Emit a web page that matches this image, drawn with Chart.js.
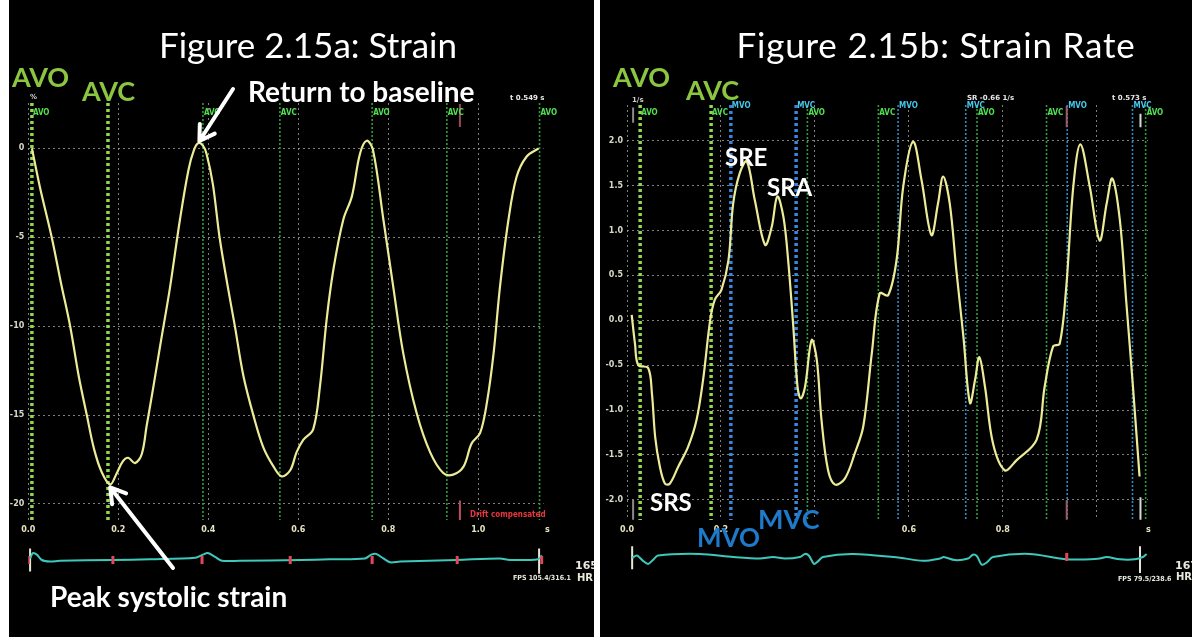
<!DOCTYPE html>
<html>
<head>
<meta charset="utf-8">
<title>Strain / Strain Rate</title>
<script src="https://cdn.jsdelivr.net/npm/chart.js@4.4.1/dist/chart.umd.min.js"></script>
<style>
  html, body { margin: 0; padding: 0; background: #fff; }
  body { width: 1192px; height: 637px; position: relative; overflow: hidden; }
  .panel { position: absolute; top: 0; height: 637px; background: #000; }
  .panel canvas { position: absolute; left: 0; }
  #panelA { left: 9px; width: 585px; }
  #panelB { left: 600px; width: 592px; }
</style>
</head>
<body>
<div class="panel" id="panelA">
  <canvas id="ecgA" width="585" height="60" style="top:530px"></canvas>
  <canvas id="mainA" width="585" height="637" style="top:0"></canvas>
</div>
<div class="panel" id="panelB">
  <canvas id="ecgB" width="592" height="60" style="top:527px"></canvas>
  <canvas id="mainB" width="592" height="637" style="top:0"></canvas>
</div>
<script>
// ---------- strain trace (%), time in s ----------
const strainT = [0.008, 0.026, 0.052, 0.072, 0.093, 0.112, 0.130, 0.146, 0.163, 0.182,
  0.196, 0.210, 0.222, 0.237, 0.252, 0.263, 0.278, 0.293, 0.315, 0.337,
  0.356, 0.368, 0.378, 0.388, 0.396, 0.410, 0.425, 0.442, 0.459, 0.478,
  0.500, 0.522, 0.545, 0.563, 0.582, 0.596, 0.611, 0.633, 0.648, 0.663,
  0.678, 0.700, 0.719, 0.737, 0.752, 0.766, 0.789, 0.811, 0.833, 0.863,
  0.893, 0.922, 0.944, 0.967, 0.985, 1.004, 1.019, 1.034, 1.048, 1.067,
  1.085, 1.107, 1.134];
const strainV = [0.0, -2.2, -5.0, -7.5, -10.0, -12.8, -15.0, -16.9, -18.2, -18.9,
  -18.3, -17.6, -17.4, -17.7, -17.2, -15.6, -13.4, -11.1, -7.8, -4.0,
  -1.2, -0.1, 0.3, 0.15, -0.3, -2.0, -5.0, -7.6, -10.0, -12.8,
  -15.0, -16.8, -17.9, -18.45, -18.1, -17.1, -16.4, -15.8, -13.4, -9.6,
  -6.8, -4.0, -2.7, -0.3, 0.43, -0.1, -4.0, -7.8, -11.5, -14.9,
  -17.1, -18.26, -18.35, -17.9, -16.6, -16.0, -14.3, -11.5, -7.8, -4.0,
  -1.6, -0.47, 0.0];
const strainEvtT = [0.008, 0.177, 0.388, 0.559, 0.764, 0.930, 1.136];
const strainEvtName = ['AVO', 'AVC', 'AVO', 'AVC', 'AVO', 'AVC', 'AVO'];
const strainXTicks = [0, 0.2, 0.4, 0.6, 0.8, 1.0];
const strainXLabels = ['0.0', '0.2', '0.4', '0.6', '0.8', '1.0'];
const strainYTicks = [-20, -15, -10, -5, 0];
const strainYLabels = ['-20', '-15', '-10', '-5', '0'];
const strainEcgT = [0.004, 0.010, 0.019, 0.030, 0.048, 0.070, 0.188, 0.271, 0.371, 0.388,
  0.399, 0.415, 0.430, 0.470, 0.604, 0.670, 0.748, 0.762, 0.773, 0.789,
  0.804, 0.826, 0.952, 1.048, 1.070, 1.133, 1.141];
const strainEcgV = [0.2, 0.9, 0.7, 0.0, -0.2, -0.1, 0.0, 0.1, 0.3, 0.7,
  0.9, 0.4, -0.1, -0.1, 0.0, 0.1, 0.2, 0.7, 0.8, 0.2,
  -0.3, -0.2, 0.0, 0.2, 0.0, 0.1, 0.6];
const strainEcgMarks = [0.0, 0.188, 0.386, 0.582, 0.764, 0.953, 1.141];

// ---------- strain rate trace (1/s) ----------
const rateT = [0.010, 0.017, 0.024, 0.045, 0.053, 0.060, 0.070, 0.081, 0.091, 0.109,
  0.130, 0.148, 0.162, 0.177, 0.187, 0.201, 0.216, 0.226, 0.240, 0.255,
  0.272, 0.294, 0.308, 0.320, 0.333, 0.343, 0.354, 0.363, 0.370, 0.379,
  0.393, 0.404, 0.414, 0.428, 0.443, 0.464, 0.485, 0.503, 0.521, 0.538,
  0.556, 0.574, 0.588, 0.609, 0.627, 0.648, 0.662, 0.673, 0.687, 0.701,
  0.716, 0.730, 0.741, 0.750, 0.762, 0.779, 0.804, 0.829, 0.872, 0.889,
  0.907, 0.921, 0.935, 0.950, 0.965, 0.985, 1.006, 1.021, 1.033, 1.049,
  1.063, 1.077, 1.091];
const rateV = [0.06, -0.26, -0.50, -0.53, -0.81, -1.30, -1.63, -1.82, -1.82, -1.63,
  -1.41, -1.11, -0.66, 0.0, 0.23, 0.34, 0.67, 1.30, 1.64, 1.77,
  1.34, 0.84, 1.04, 1.38, 1.15, 0.67, -0.07, -0.74, -0.87, -0.74,
  -0.22, -0.44, -1.11, -1.67, -1.83, -1.76, -1.48, -1.18, -0.37, 0.30,
  0.28, 0.68, 1.49, 1.99, 1.56, 0.95, 1.30, 1.60, 1.30, 0.56,
  -0.18, -0.92, -0.66, -0.41, -0.74, -1.37, -1.67, -1.56, -1.33, -0.74,
  -0.29, -0.26, 0.37, 1.49, 1.96, 1.49, 0.89, 1.30, 1.58, 1.12,
  0.19, -0.74, -1.74];
const rateEvtT = [0.028, 0.179, 0.221, 0.360, 0.384, 0.535, 0.577, 0.721, 0.745, 0.893, 0.937, 1.076, 1.104];
const rateEvtName = ['AVO', 'AVC', 'MVO', 'MVC', 'AVO', 'AVC', 'MVO', 'MVC', 'AVO', 'AVC', 'MVO', 'MVC', 'AVO'];
const rateXTicks = [0, 0.2, 0.4, 0.6, 0.8, 1.0];
const rateXLabels = ['0.0', '0.2', '', '0.6', '0.8', ''];
const rateYTicks = [-2.0, -1.5, -1.0, -0.5, 0.0, 0.5, 1.0, 1.5, 2.0];
const rateYLabels = ['-2.0', '-1.5', '-1.0', '-0.5', '0.0', '0.5', '1.0', '1.5', '2.0'];
const rateEcgT = [0.011, 0.021, 0.034, 0.045, 0.055, 0.066, 0.155, 0.226, 0.283, 0.311,
  0.336, 0.368, 0.379, 0.387, 0.398, 0.406, 0.417, 0.481, 0.581, 0.630,
  0.666, 0.674, 0.698, 0.726, 0.736, 0.745, 0.755, 0.766, 0.779, 0.857,
  0.936, 1.006, 1.021, 1.049, 1.081, 1.098, 1.106];
const rateEcgV = [-0.1, 0.2, -0.5, -0.9, -0.4, 0.2, 0.4, 0.0, -0.2, 0.0,
  -0.2, 0.0, 0.4, 0.2, -0.9, -0.6, 0.0, 0.4, -0.1, -0.5,
  -0.2, 0.0, -0.4, -0.2, 0.3, 0.1, -1.0, -0.7, 0.0, 0.4,
  -0.3, -0.2, 0.0, -0.3, -0.3, 0.0, 0.4];
const rateEcgMarks = [0.936];

const TICK_FONT = { family: 'DejaVu Sans', size: 8, weight: 'bold' };

function xy(ts, vs) {
  return ts.map((t, i) => ({ x: t, y: vs[i] }));
}

// vertical valve-event lines; the first beat is drawn heavier
function eventLines(times, names, heavyCount, yMin, yMax) {
  return times.map((t, i) => {
    const mitral = names[i][0] === 'M';
    const heavy = i < heavyCount;
    return {
      data: [{ x: t, y: yMax }, { x: t, y: yMin }],
      borderColor: mitral ? (heavy ? '#3a86dc' : '#2a8cc0') : (heavy ? '#92d84c' : '#2f9c3a'),
      borderWidth: heavy ? 3.5 : 1.6,
      borderDash: heavy ? [3, 3] : [2, 2],
      borderCapStyle: 'butt',
      pointRadius: 0,
      order: 2
    };
  });
}

function cursor(t, v0, v1, color) {
  return { data: [{ x: t, y: v0 }, { x: t, y: v1 }], borderColor: color, borderWidth: 2, pointRadius: 0, order: 1 };
}

function text(ctx, str, x, y, font, color, align, spacing) {
  ctx.save();
  ctx.font = font;
  ctx.fillStyle = color;
  ctx.textAlign = align || 'left';
  ctx.textBaseline = 'middle';
  if (spacing) ctx.letterSpacing = spacing;
  ctx.fillText(str, x, y);
  ctx.restore();
}

function arrow(ctx, x1, y1, x2, y2) {
  const a = Math.atan2(y2 - y1, x2 - x1), h = 17;
  ctx.save();
  ctx.strokeStyle = '#fff';
  ctx.lineWidth = 4;
  ctx.lineCap = 'round';
  ctx.lineJoin = 'round';
  ctx.beginPath();
  ctx.moveTo(x1, y1);
  ctx.lineTo(x2, y2);
  ctx.moveTo(x2 - h * Math.cos(a - 0.55), y2 - h * Math.sin(a - 0.55));
  ctx.lineTo(x2, y2);
  ctx.lineTo(x2 - h * Math.cos(a + 0.55), y2 - h * Math.sin(a + 0.55));
  ctx.stroke();
  ctx.restore();
}

function extremeIndex(ts, vs, t0, t1, sign) {
  let best = -1;
  ts.forEach((t, i) => {
    if (t >= t0 && t <= t1 && (best < 0 || sign * vs[i] > sign * vs[best])) best = i;
  });
  return best;
}

function eventTags(chart, times, names, skip) {
  const ctx = chart.ctx, x = chart.scales.x;
  times.forEach((t, i) => {
    if (skip.includes(i)) return;
    const mitral = names[i][0] === 'M';
    text(ctx, names[i], x.getPixelForValue(t) + 1, mitral ? 106 : 113,
      'bold 8px "DejaVu Sans Condensed"', mitral ? '#46c8ec' : '#52e052');
  });
}

function makeMain(id, o) {
  const W = o.width;
  return new Chart(document.getElementById(id), {
    type: 'line',
    data: {
      datasets: [
        { data: xy(o.t, o.v), borderColor: '#ecec98', borderWidth: 2.2, pointRadius: 0, tension: 0.35, order: 0 },
        ...eventLines(o.evtT, o.evtName, o.heavy, o.yMin, o.yMax),
        ...o.extra
      ]
    },
    options: {
      responsive: false,
      animation: false,
      events: [],
      layout: { padding: { left: 0, top: o.area.top, right: W - o.area.right, bottom: 637 - o.area.bottom - 20 } },
      plugins: { legend: { display: false }, tooltip: { enabled: false } },
      scales: {
        x: {
          type: 'linear', min: o.xMin, max: o.xMax,
          afterBuildTicks: s => { s.ticks = o.xTicks.map(v => ({ value: v })); },
          afterFit: s => { s.height = 20; },
          ticks: { autoSkip: false, maxRotation: 0, padding: 5, color: '#e8e4c0', font: TICK_FONT,
                   callback: (v, i) => o.xLabels[i] },
          grid: { color: 'rgba(170,170,170,0.75)', lineWidth: 1, drawTicks: false },
          border: { display: false, dash: [2, 3] }
        },
        y: {
          type: 'linear', min: o.yMin, max: o.yMax,
          afterBuildTicks: s => { s.ticks = o.yTicks.map(v => ({ value: v })); },
          afterFit: s => { s.width = o.area.left; },
          ticks: { autoSkip: false, padding: 4, color: '#d8d8c8', font: TICK_FONT,
                   callback: (v, i) => o.yLabels[i] },
          grid: { color: 'rgba(170,170,170,0.75)', lineWidth: 1, drawTicks: false },
          border: { display: false, dash: [2, 3] }
        }
      }
    },
    plugins: [{ id: 'notes', afterDraw: o.notes }]
  });
}

function makeEcg(id, o) {
  return new Chart(document.getElementById(id), {
    type: 'line',
    data: {
      datasets: [
        { data: xy(o.t, o.v), borderColor: '#3ec8bc', borderWidth: 2, pointRadius: 0, tension: 0.3, order: 1 },
        { type: 'scatter', data: o.marks.map(t => ({ x: t, y: 0 })), pointStyle: 'line', rotation: 90,
          radius: 4, borderColor: '#e0485a', borderWidth: 3, order: 0 },
        ...o.cursors.map(c => cursor(c[0], c[1], c[2], '#e6e6d8'))
      ]
    },
    options: {
      responsive: false,
      animation: false,
      events: [],
      layout: { padding: { left: o.area.left, right: o.width - o.area.right, top: 0, bottom: 0 } },
      plugins: { legend: { display: false }, tooltip: { enabled: false } },
      scales: {
        x: { type: 'linear', display: false, min: o.xMin, max: o.xMax },
        y: { type: 'linear', display: false, min: -3, max: 3 }
      }
    }
  });
}

// ---------- Figure 2.15a: strain ----------
const areaA = { left: 19.3, right: 534.6, top: 103, bottom: 520 };
makeMain('mainA', {
  width: 585, area: areaA, xMin: 0, xMax: 1.145, yMin: -20.9, yMax: 2.55,
  t: strainT, v: strainV, evtT: strainEvtT, evtName: strainEvtName, heavy: 2,
  xTicks: strainXTicks, xLabels: strainXLabels, yTicks: strainYTicks, yLabels: strainYLabels,
  extra: [cursor(0.959, 2.5, 1.2, '#9c4a58'), cursor(0.959, -19.8, -20.9, '#c0505e')],
  notes(chart) {
    const ctx = chart.ctx, x = chart.scales.x, y = chart.scales.y;
    eventTags(chart, strainEvtT, strainEvtName, [1]);
    text(ctx, '%', 21, 97, 'bold 7px "DejaVu Sans"', '#cfcfcf');
    text(ctx, 't 0.549 s', 501, 98, 'bold 7px "DejaVu Sans"', '#e8e8e8');
    text(ctx, 'Drift compensated', 461, 515, 'bold 8px "DejaVu Sans Condensed"', '#e8363e');
    text(ctx, 's', 536, 530, 'bold 8px "DejaVu Sans"', '#e8e4c0');
    text(ctx, '165', 566, 566, 'bold 11px "DejaVu Sans"', '#e8e8dc');
    text(ctx, 'HR', 568, 578, 'bold 10px "DejaVu Sans"', '#e8e8dc');
    text(ctx, 'FPS 105.4/316.1', 504, 578, 'bold 7px "DejaVu Sans Condensed"', '#e8e8dc');

    text(ctx, 'Figure 2.15a: Strain', 299, 47, '35px Lato', '#ffffff', 'center');
    text(ctx, 'AVO', 3, 78, 'bold 27px Lato', '#8cc640');
    text(ctx, 'AVC', 73, 92, 'bold 27px Lato', '#8cc640');
    text(ctx, 'Return to baseline', 239, 93, 'bold 28px Lato', '#ffffff');
    text(ctx, 'Peak systolic strain', 41, 598, 'bold 28px Lato', '#ffffff');

    const pk = extremeIndex(strainT, strainV, 0.3, 0.45, 1);
    arrow(ctx, 224, 89, x.getPixelForValue(strainT[pk]) + 1, y.getPixelForValue(strainV[pk]) - 2);
    const lo = extremeIndex(strainT, strainV, 0.1, 0.3, -1);
    arrow(ctx, 164, 568, x.getPixelForValue(strainT[lo]), y.getPixelForValue(strainV[lo]) + 3);
  }
});
makeEcg('ecgA', {
  width: 585, area: areaA, xMin: 0, xMax: 1.145,
  t: strainEcgT, v: strainEcgV, marks: strainEcgMarks,
  cursors: [[0.004, 1.5, -1.5], [1.135, 1.5, -1.8]]
});

// ---------- Figure 2.15b: strain rate ----------
const areaB = { left: 27, right: 548, top: 105, bottom: 520 };
makeMain('mainB', {
  width: 592, area: areaB, xMin: 0, xMax: 1.109, yMin: -2.224, yMax: 2.398,
  t: rateT, v: rateV, evtT: rateEvtT, evtName: rateEvtName, heavy: 4,
  xTicks: rateXTicks, xLabels: rateXLabels, yTicks: rateYTicks, yLabels: rateYLabels,
  extra: [
    cursor(0.013, 2.37, 2.2, '#8a8a8a'), cursor(0.013, -2.0, -2.22, '#8a8a8a'),
    cursor(0.936, 2.39, 2.15, '#9c5a68'), cursor(0.936, -2.0, -2.22, '#9c5a68'),
    cursor(1.093, 2.3, 2.15, '#d8d8d8'), cursor(1.093, -1.97, -2.22, '#d8d8d8')
  ],
  notes(chart) {
    const ctx = chart.ctx;
    eventTags(chart, rateEvtT, rateEvtName, []);
    text(ctx, '1/s', 32, 100, 'bold 7px "DejaVu Sans"', '#cfcfcf');
    text(ctx, 'SR -0.66 1/s', 367, 98, 'bold 7px "DejaVu Sans"', '#e8e8e8');
    text(ctx, 't 0.573 s', 512, 98, 'bold 7px "DejaVu Sans"', '#e8e8e8');
    text(ctx, 's', 546, 530, 'bold 8px "DejaVu Sans"', '#e8e4c0');
    text(ctx, '167', 575, 566, 'bold 11px "DejaVu Sans"', '#e8e8dc');
    text(ctx, 'HR', 576, 577, 'bold 10px "DejaVu Sans"', '#e8e8dc');
    text(ctx, 'FPS 79.5/238.6', 518, 579, 'bold 7px "DejaVu Sans Condensed"', '#e8e8dc');

    text(ctx, 'Figure 2.15b: Strain Rate', 336, 47, '35px Lato', '#ffffff', 'center', '0.8px');
    text(ctx, 'AVO', 13, 78, 'bold 27px Lato', '#8cc640');
    text(ctx, 'AVC', 86, 91, 'bold 27px Lato', '#8cc640');
    text(ctx, 'SRE', 125, 158, 'bold 24px Lato', '#ffffff');
    text(ctx, 'SRA', 167, 188, 'bold 24px Lato', '#ffffff');
    text(ctx, 'SRS', 50, 503, 'bold 24px Lato', '#ffffff');
    text(ctx, 'MVO', 97, 539, 'bold 26px Lato', '#1e7acb');
    text(ctx, 'MVC', 158, 520, 'bold 27px Lato', '#1e7acb');
  }
});
makeEcg('ecgB', {
  width: 592, area: areaB, xMin: 0, xMax: 1.109,
  t: rateEcgT, v: rateEcgV, marks: rateEcgMarks,
  cursors: [[0.011, 1.4, -1.6], [1.092, 1.4, -2.1]]
});
</script>
</body>
</html>
